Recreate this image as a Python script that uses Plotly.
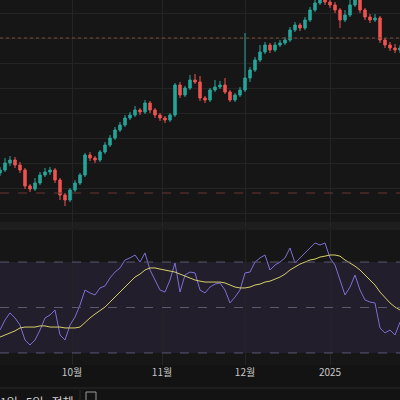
import plotly.graph_objects as go

# candles (arbitrary price units), one per trading day
opens = [47, 50, 57, 60, 55, 50, 34, 31, 37, 45, 48, 50, 40, 25, 20, 30, 37, 45, 65, 62,
         60, 68, 75, 82, 90, 95, 102, 105, 110, 108, 117, 110, 105, 102, 100, 105, 135, 125, 132, 140,
         138, 122, 120, 130, 133, 135, 128, 120, 125, 130, 142, 150, 160, 168, 175, 170, 175, 177, 180, 190,
         195, 192, 200, 210, 217, 220, 218, 215, 210, 200, 205, 215, 220, 210, 203, 200, 202, 180, 175, 172, 170]
closes = [50, 57, 60, 55, 50, 34, 31, 37, 45, 48, 50, 40, 25, 20, 30, 37, 45, 65, 62, 60,
          68, 75, 82, 90, 95, 102, 105, 110, 108, 117, 110, 105, 102, 100, 105, 135, 125, 132, 140, 138,
          122, 120, 130, 133, 135, 128, 120, 125, 130, 142, 150, 160, 168, 175, 170, 175, 177, 180, 190, 195,
          192, 200, 210, 217, 220, 218, 215, 210, 200, 205, 215, 220, 210, 203, 200, 202, 180, 175, 172, 170, 172]
highs = [53, 62, 64, 63, 58, 52, 36, 42, 48, 52, 53, 52, 42, 27, 32, 40, 47, 67, 68, 64,
         70, 78, 85, 93, 98, 105, 108, 114, 112, 120, 119, 112, 107, 104, 107, 137, 138, 134, 145, 146,
         144, 124, 132, 140, 139, 142, 130, 127, 133, 187, 153, 163, 175, 178, 177, 178, 180, 183, 193, 198,
         197, 203, 213, 220, 223, 222, 220, 218, 212, 210, 220, 224, 222, 212, 206, 206, 204, 182, 178, 176, 175]
lows = [44, 48, 54, 52, 47, 31, 28, 29, 35, 43, 45, 37, 20, 14, 18, 28, 35, 43, 59, 57,
        58, 66, 73, 80, 88, 93, 100, 103, 105, 106, 107, 102, 99, 97, 98, 103, 122, 123, 130, 136,
        119, 117, 118, 128, 131, 126, 118, 118, 123, 128, 138, 148, 158, 166, 167, 168, 173, 175, 178, 188,
        189, 190, 198, 208, 215, 215, 212, 207, 192, 198, 203, 213, 207, 200, 197, 198, 177, 172, 169, 167, 167]

rsi = [40.1, 44.5, 47.6, 45.4, 42.3, 35.7, 33.5, 35.7, 40.1, 45.4, 46.7, 48.9, 37.9, 35.7, 42.3, 45.8,
       51.1, 57.7, 56.4, 55.5, 58.6, 59.5, 63.0, 65.6, 67.4, 70.9, 71.8, 73.1, 70.0, 74.0, 66.5, 62.1,
       57.7, 56.8, 62.1, 69.6, 56.8, 64.3, 65.6, 65.2, 57.7, 56.4, 59.0, 60.3, 60.8, 57.7, 52.0, 54.6,
       57.7, 65.2, 65.6, 70.0, 71.8, 73.1, 66.5, 68.7, 70.0, 71.8, 76.2, 69.6, 71.8, 74.4, 76.2, 78.4,
       77.5, 78.4, 71.8, 68.7, 62.1, 55.5, 59.0, 64.3, 57.7, 53.3, 52.4, 52.0, 41.0, 38.8, 40.1, 37.9, 43.6]
rsi_ma = [37.0, 37.9, 38.8, 39.7, 41.0, 41.4, 41.4, 41.4, 41.9, 41.9, 41.4, 41.4, 41.4, 41.0, 41.0, 41.0,
          41.4, 43.6, 45.4, 47.1, 48.5, 50.2, 52.4, 54.6, 56.8, 59.0, 61.6, 63.4, 64.7, 66.5, 67.4, 67.4,
          66.9, 66.5, 66.0, 65.6, 64.7, 63.8, 63.0, 62.1, 61.6, 61.2, 61.2, 61.2, 61.2, 60.8, 59.9, 59.0,
          58.6, 58.6, 59.0, 59.9, 60.3, 61.2, 61.6, 62.5, 63.4, 64.7, 66.5, 67.8, 69.1, 70.0, 70.9, 71.3,
          72.2, 72.6, 73.1, 73.1, 72.6, 70.9, 69.6, 68.2, 66.5, 64.3, 62.1, 59.9, 56.8, 54.2, 52.0, 50.2, 48.9]

days = list(range(len(closes)))
month_pos = [14.4, 32.4, 49, 66]
month_labels = ["10월", "11월", "12월", "2025"]

fig = go.Figure()
fig.add_trace(go.Candlestick(
    x=days, open=opens, high=highs, low=lows, close=closes,
    increasing=dict(line=dict(color="#26a69a", width=1), fillcolor="#26a69a"),
    decreasing=dict(line=dict(color="#ef5350", width=1), fillcolor="#ef5350"),
    whiskerwidth=0, showlegend=False, xaxis="x", yaxis="y"))
fig.add_trace(go.Scatter(x=days, y=rsi, mode="lines", line=dict(color="#7e6fd6", width=1),
                         showlegend=False, xaxis="x2", yaxis="y2"))
fig.add_trace(go.Scatter(x=days, y=rsi_ma, mode="lines", line=dict(color="#d4cf6a", width=1),
                         showlegend=False, xaxis="x2", yaxis="y2"))

fig.add_shape(type="rect", xref="x2 domain", yref="y2", x0=0, x1=1, y0=30, y1=70,
              fillcolor="rgba(126,87,194,0.12)", line_width=0, layer="below")
for lvl in [30, 50, 70]:
    fig.add_shape(type="line", xref="x2 domain", yref="y2", x0=0, x1=1, y0=lvl, y1=lvl,
                  line=dict(color="#5c5870", width=1, dash="dash"))
fig.add_shape(type="line", xref="x domain", yref="y", x0=0, x1=1, y0=182, y1=182,
              line=dict(color="#7a4a30", width=1, dash="dot"))
fig.add_shape(type="line", xref="x domain", yref="y", x0=0, x1=1, y0=27, y1=27,
              line=dict(color="#6a3434", width=1, dash="dash"))
# pane separators and bottom toolbar
fig.add_shape(type="rect", xref="paper", yref="paper", x0=0, x1=1, y0=0.425, y1=0.445,
              fillcolor="#1e1e1e", line_width=0, layer="below")
fig.add_shape(type="line", xref="paper", yref="paper", x0=0, x1=1, y0=0.03, y1=0.03,
              line=dict(color="#2a2a2a", width=1))
fig.add_shape(type="line", xref="paper", yref="paper", x0=0.2, x1=0.2, y0=0, y1=0.025,
              line=dict(color="#2a2a2a", width=1))
fig.add_shape(type="rect", xref="paper", yref="paper", x0=0.215, x1=0.24, y0=-0.01, y1=0.02,
              line=dict(color="#9a9a9a", width=1))
fig.add_annotation(x=-0.005, y=-0.005, xref="paper", yref="paper", xanchor="left", yanchor="middle",
                   text="1일   5일   전체", showarrow=False, font=dict(color="#d0d0d0", size=12))

axis_common = dict(range=[0, 80], tickvals=month_pos, ticktext=month_labels,
                   showgrid=True, gridcolor="#242424", zeroline=False,
                   rangeslider=dict(visible=False))
fig.update_layout(
    width=400, height=400, margin=dict(l=0, r=0, t=0, b=0),
    paper_bgcolor="#131313", plot_bgcolor="#161616",
    font=dict(family="Noto Sans CJK KR", color="#c8c8c8", size=10),
    xaxis=dict(axis_common, anchor="y", showticklabels=False),
    yaxis=dict(domain=[0.43, 1], range=[-8, 220], tick0=7, dtick=25, showticklabels=False,
               gridcolor="#242424", zeroline=False),
    xaxis2=dict(axis_common, anchor="y2", showticklabels=True, ticks=""),
    yaxis2=dict(domain=[0.0875, 0.425], range=[24.7, 84.1], showgrid=False,
                showticklabels=False, zeroline=False),
)
fig.write_html("out.html", config={"displayModeBar": False},
               post_script="document.body.style.margin='0';document.body.style.background='#131313';")
